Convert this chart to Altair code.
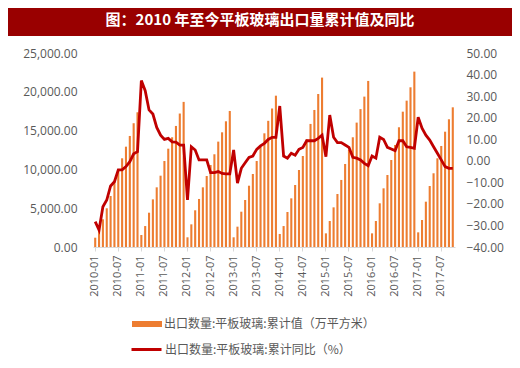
import altair as alt
import pandas as pd

# ---- data ----
years = list(range(2010, 2018))

cum_2010 = [1200, 2300, 3570, 4990, 6570, 8420, 9930, 11430, 12930, 14310, 15950, 17360]
cum_2011 = [1550, 2700, 4420, 6140, 7690, 9190, 11080, 12670, 14140, 15600, 17200, 18700]
cum_2012 = [1250, 2920, 4730, 6190, 7690, 9150, 10570, 11950, 13580, 14780, 16200, 17530]
cum_2013 = [1250, 2620, 4550, 6060, 7900, 9410, 11080, 12930, 14650, 16260, 17850, 19500]
cum_2014 = [1680, 2700, 4510, 6270, 7990, 9920, 11730, 13880, 15860, 17660, 19720, 21830]
cum_2015 = [1760, 3350, 5110, 6830, 8640, 10700, 12500, 14140, 16030, 17770, 19380, 21400]
cum_2016 = [1760, 3350, 5630, 7560, 9280, 11210, 13150, 15430, 17440, 18860, 20580, 22600]
cum_2017 = [1890, 3480, 5840, 7860, 9500, 11430, 13020, 14860, 16460, 18000]

yoy_2010 = [-28.2, -32.1, -21.3, -18.2, -11.7, -9.7, -4.2, -4.2, -2.7, -0.4, 3.2, 4.2]
yoy_2011 = [37.2, 32.5, 23.6, 21.7, 15.5, 11.9, 9.9, 10.4, 8.8, 8.7, 7.3, 7.3]
yoy_2012 = [-18.2, 6.5, 5.0, 0.4, 0.4, 0.4, -5.5, -5.5, -5.0, -5.9, -6.1, -6.1]
yoy_2013 = [5.0, -10.4, -3.5, -0.9, 1.6, 2.2, 5.3, 6.9, 8.1, 9.9, 10.9, 10.9]
yoy_2014 = [25.4, 2.2, 1.2, 3.5, 2.6, 5.3, 6.2, 9.3, 9.3, 9.3, 10.4, 11.9]
yoy_2015 = [1.9, 21.2, 10.9, 8.4, 8.4, 7.3, 6.2, 1.6, 1.2, 0.4, -1.2, -2.3]
yoy_2016 = [2.2, 1.2, 10.9, 9.9, 6.2, 5.5, 4.7, 9.3, 9.3, 6.5, 6.2, 5.8]
yoy_2017 = [20.2, 15.1, 11.9, 9.6, 6.5, 3.5, 0.4, -2.7, -3.5, -3.5]

cum = cum_2010 + cum_2011 + cum_2012 + cum_2013 + cum_2014 + cum_2015 + cum_2016 + cum_2017
yoy = yoy_2010 + yoy_2011 + yoy_2012 + yoy_2013 + yoy_2014 + yoy_2015 + yoy_2016 + yoy_2017
months = [f"{y}-{m:02d}" for y in years for m in range(1, 13)][: len(cum)]
tick_months = [m for m in months if m.endswith("-01") or m.endswith("-07")]

left_ticks = [0, 5000, 10000, 15000, 20000, 25000]
right_ticks = [-40, -30, -20, -10, 0, 10, 20, 30, 40, 50]

TITLE = "图：2010 年至今平板玻璃出口量累计值及同比"
BAR_NAME = "出口数量:平板玻璃:累计值（万平方米）"
LINE_NAME = "出口数量:平板玻璃:累计同比（%）"

df = pd.DataFrame({"month": months, "cum": cum, "yoy": yoy})

AX_FONT = "Open Sans"
CJK = "Noto Sans CJK SC"
GRAY = "#595959"

x_enc = alt.X(
    "month:O",
    title=None,
    scale=alt.Scale(paddingInner=0.45, paddingOuter=0.3),
    axis=alt.Axis(
        values=tick_months,
        labelAngle=-90,
        labelFont=AX_FONT,
        labelFontSize=11,
        labelColor=GRAY,
        domainColor="#d9d9d9",
        tickColor="#d9d9d9",
        tickSize=4,
        labelPadding=4,
    ),
)

bars = (
    alt.Chart(df)
    .transform_calculate(s1=f"'{BAR_NAME}'")
    .mark_bar(size=2.1)
    .encode(
        x=x_enc,
        y=alt.Y(
            "cum:Q",
            title=None,
            scale=alt.Scale(domain=[0, 25000], nice=False),
            axis=alt.Axis(
                values=left_ticks,
                format=",.2f",
                grid=False,
                domain=False,
                ticks=False,
                labelPadding=16,
                labelFont=AX_FONT,
                labelFontSize=12,
                labelColor=GRAY,
            ),
        ),
        color=alt.Color(
            "s1:N",
            scale=alt.Scale(range=["#ED7D31"]),
            legend=alt.Legend(
                title=None,
                orient="none",
                legendX=39,
                legendY=256,
                symbolType="M-1,-0.2H1V0.2H-1Z",
                symbolSize=900,
                symbolStrokeWidth=0,
                labelOffset=2,
                labelFont=CJK,
                labelFontSize=12,
                labelColor=GRAY,
                labelLimit=500,
            ),
        ),
    )
)

line = (
    alt.Chart(df)
    .transform_calculate(s2=f"'{LINE_NAME}'")
    .mark_line(strokeWidth=2.8)
    .encode(
        x=x_enc,
        y=alt.Y(
            "yoy:Q",
            title=None,
            scale=alt.Scale(domain=[-40, 50], nice=False),
            axis=alt.Axis(
                orient="right",
                values=right_ticks,
                format=".2f",
                grid=False,
                domain=False,
                ticks=False,
                labelPadding=11,
                labelFont=AX_FONT,
                labelFontSize=12,
                labelColor=GRAY,
            ),
        ),
        stroke=alt.Stroke(
            "s2:N",
            scale=alt.Scale(range=["#C00000"]),
            legend=alt.Legend(
                title=None,
                orient="none",
                legendX=37,
                legendY=280,
                symbolType="stroke",
                symbolSize=900,
                symbolStrokeWidth=3,
                labelOffset=2,
                labelFont=CJK,
                labelFontSize=12,
                labelColor=GRAY,
                labelLimit=500,
            ),
        ),
    )
)

title_bg = (
    alt.Chart(alt.Data(values=[{}]))
    .mark_rect(color="#990000")
    .encode(x=alt.value(-85), x2=alt.value(419), y=alt.value(-50), y2=alt.value(-17))
)
title_txt = (
    alt.Chart(alt.Data(values=[{}]))
    .mark_text(
        text=TITLE,
        color="white",
        font=CJK,
        fontSize=15,
        fontWeight="bold",
        align="center",
        baseline="middle",
    )
    .encode(x=alt.value(167), y=alt.value(-33))
)

chart = (
    alt.layer(bars, line, title_bg, title_txt)
    .resolve_scale(y="independent", color="independent", stroke="independent")
    .properties(
        width=362,
        height=194,
        padding={"left": 85, "top": 45, "right": 57, "bottom": 118},
        autosize=alt.AutoSizeParams(type="none"),
        background="white",
    )
    .configure_view(stroke=None)
)

chart.save("out.html", embed_options={"renderer": "svg", "actions": False})
